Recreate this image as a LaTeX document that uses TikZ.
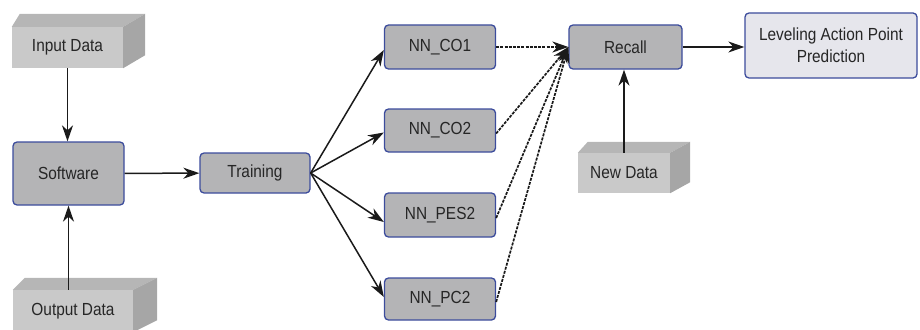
\documentclass[tikz,border=0pt]{standalone}
\usepackage{fontspec}
\setmainfont{Liberation Sans}[FakeStretch=0.88]
\usetikzlibrary{arrows.meta}

\definecolor{procfill}{HTML}{B4B4B6}
\definecolor{procline}{HTML}{3C4C9C}
\definecolor{resfill}{HTML}{E6E6EC}
\definecolor{slabfront}{HTML}{C9C9C9}
\definecolor{slabtop}{HTML}{B6B6B6}
\definecolor{slabside}{HTML}{A6A6A6}
\definecolor{ink}{HTML}{262626}
\definecolor{wire}{HTML}{1A1A1A}

\tikzset{
  label font/.style={font=\fontsize{17.5}{22}\selectfont, text=ink},
  procbox/.style={label font, rectangle, rounded corners=4pt, fill=procfill,
    draw=procline, line width=1.3pt, inner sep=0pt, align=center},
  resultbox/.style={procbox, fill=resfill},
  slab/.style={label font, rectangle, fill=slabfront, inner sep=0pt},
  flow/.style={draw=wire, line width=1.5pt,
    -{Stealth[length=16pt,width=11pt,inset=5pt]}},
  recallflow/.style={flow, dash pattern=on 3pt off 1.2pt, line width=1.7pt}
}

% top and right faces of a data block: node, left depth, right depth, height
\newcommand\slabfaces[4]{%
  \fill[slabtop] (#1.north west) -- ++(#2,-#4) -- ([shift={(#3,-#4)}]#1.north east)
    -- (#1.north east) -- cycle;
  \fill[slabside] (#1.north east) -- ([shift={(#3,-#4)}]#1.north east)
    -- ([shift={(#3,-#4)}]#1.south east) -- (#1.south east) -- cycle;
}

\begin{document}
\begin{tikzpicture}[x=1pt,y=-1pt]
  \path[use as bounding box] (0,0) rectangle (920,329);
  \clip (0,0) rectangle (920,329);

  % data blocks
  \node[slab, minimum width=111pt, minimum height=41pt] (inp) at (67.5,47.5) {Input Data};
  \slabfaces{inp}{8}{22}{13}
  \node[slab, minimum width=120pt, minimum height=42pt] (out) at (73,311) {Output Data};
  \slabfaces{out}{12}{24}{12}
  \node[slab, minimum width=92pt, minimum height=40pt] (new) at (624,173) {New Data};
  \slabfaces{new}{10}{20}{11}

  % processing steps
  \node[procbox, minimum width=111pt, minimum height=63pt] (sw) at (68.5,173.5) {Software};
  \node[procbox, minimum width=110pt, minimum height=40pt] (tr) at (255,173) {Training};
  \node[procbox, minimum width=111pt, minimum height=44pt] (co1) at (440,47) {NN\_CO1};
  \node[procbox, minimum width=111pt, minimum height=43pt] (co2) at (440,130.5) {NN\_CO2};
  \node[procbox, minimum width=111pt, minimum height=44pt] (pes) at (440,215) {NN\_PES2};
  \node[procbox, minimum width=111pt, minimum height=42pt] (pc) at (440,299) {NN\_PC2};
  \node[procbox, minimum width=113pt, minimum height=44pt] (rec) at (625.5,47) {Recall};
  \node[resultbox, minimum width=172pt, minimum height=65pt] (lev) at (831,45.5)
    {Leveling Action Point\\Prediction};

  % data feeding the software
  \draw[flow] (inp.south) -- (inp.south |- sw.north);
  \draw[flow] (sw.south |- out.north) -- (sw.south);
  \draw[flow] (sw) -- (tr);

  % training fan-out
  \draw[flow] (tr.east) -- ([yshift=-3pt]co1.west);
  \draw[flow] (tr.east) -- ([yshift=-2pt]co2.west);
  \draw[flow] (tr.east) -- ([yshift=-7pt]pes.west);
  \draw[flow] (tr.east) -- ([yshift=2pt]pc.west);

  % trained networks into recall
  \draw[recallflow] (co1.east) -- (rec.west);
  \draw[recallflow] ([yshift=-3pt]co2.east) -- (rec.west);
  \draw[recallflow] ([yshift=-3pt]pes.east) -- (rec.west);
  \draw[recallflow] ([yshift=-3pt]pc.east) -- (rec.west);

  \draw[flow] (new.north) -- (new.north |- rec.south);
  \draw[flow] (rec.east) -- (rec.east -| lev.west);
\end{tikzpicture}
\end{document}
